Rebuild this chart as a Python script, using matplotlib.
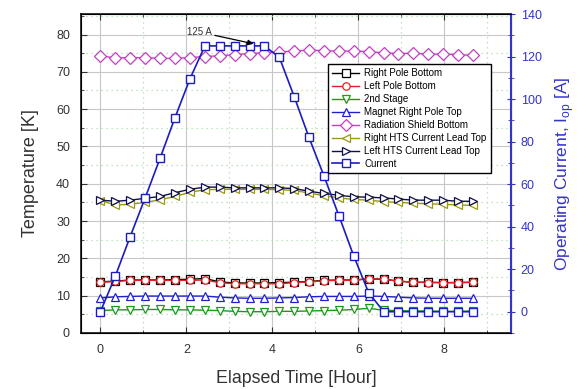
import numpy as np
import matplotlib
matplotlib.use('Agg')
import matplotlib.pyplot as plt
from matplotlib.ticker import MultipleLocator

plt.rcParams['font.family'] = ['Liberation Sans', 'DejaVu Sans']

# elapsed time [hour]
t = [0, 0.35, 0.69, 1.04, 1.39, 1.73, 2.08, 2.43, 2.77, 3.12, 3.47, 3.81, 4.16,
     4.51, 4.85, 5.20, 5.55, 5.89, 6.24, 6.59, 6.93, 7.28, 7.63, 7.97, 8.32, 8.67]

# temperatures [K]
right_pole_bottom = [13.7, 13.9, 14.2, 14.2, 14.2, 14.3, 14.4, 14.6, 13.7, 13.4, 13.4, 13.4, 13.5,
                     13.6, 13.8, 14.1, 14.2, 14.2, 14.5, 14.4, 13.9, 13.6, 13.6, 13.5, 13.5, 13.6]
left_pole_bottom = [13.6, 13.8, 14.1, 14.1, 14.1, 14.1, 14.1, 14.2, 13.5, 13.2, 13.2, 13.2, 13.2,
                    13.5, 13.7, 14.0, 14.1, 14.1, 14.6, 14.4, 13.9, 13.6, 13.5, 13.5, 13.5, 13.6]
second_stage = [6.0, 6.2, 6.2, 6.3, 6.3, 6.2, 6.2, 6.1, 6.0, 5.8, 5.7, 5.7, 5.8,
                5.8, 5.9, 6.0, 6.1, 6.3, 6.6, 6.1, 6.0, 5.9, 5.9, 5.8, 5.8, 5.9]
magnet_right_pole_top = [9.4, 9.7, 9.8, 9.9, 9.9, 9.9, 9.9, 9.9, 9.6, 9.4, 9.3, 9.3, 9.4,
                         9.5, 9.7, 9.8, 9.8, 9.8, 9.9, 9.8, 9.6, 9.4, 9.3, 9.3, 9.3, 9.3]
radiation_shield = [74.3, 73.7, 73.8, 73.8, 73.6, 73.6, 73.8, 74.1, 74.3, 74.6, 74.9, 75.1, 75.3,
                    75.6, 75.8, 75.7, 75.5, 75.6, 75.4, 75.1, 74.9, 75.0, 74.7, 74.8, 74.6, 74.4]
right_hts = [35.5, 34.3, 34.5, 35.0, 35.7, 36.6, 37.7, 38.4, 38.5, 38.5, 38.5, 38.5, 38.4,
             38.2, 37.5, 36.8, 36.2, 35.8, 35.6, 35.2, 35.0, 34.8, 34.6, 34.5, 34.3, 34.2]
left_hts = [35.6, 35.3, 35.6, 36.1, 36.6, 37.6, 38.5, 39.1, 39.1, 38.9, 38.9, 38.9, 38.9,
            38.7, 38.0, 37.4, 36.9, 36.5, 36.4, 36.2, 35.9, 35.6, 35.6, 35.6, 35.3, 35.3]

# operating current [A]
current = [0, 16.9, 35.2, 53.5, 72.3, 91.0, 109.4, 125, 125, 125, 125, 125, 119.7,
           101, 82, 63.8, 45, 26.3, 8.9, 0, 0, 0, 0, 0, 0, 0]

blue = '#3434c8'
txt = '#333333'

fig = plt.figure(figsize=(5.79, 3.89), dpi=100)
ax = fig.add_axes([0.14, 0.144, 0.7426, 0.82])
ax2 = ax.twinx()

mk = dict(markersize=5.3, markerfacecolor='white', linewidth=1, markeredgewidth=0.9)
l1, = ax.plot(t, right_pole_bottom, color='black', marker='s', label='Right Pole Bottom', **mk)
l2, = ax.plot(t, left_pole_bottom, color='#e02020', marker='o', label='Left Pole Bottom', **mk)
l3, = ax.plot(t, second_stage, color='#1a9a1a', marker='v', label='2nd Stage', **mk)
l4, = ax.plot(t, magnet_right_pole_top, color='#2020d0', marker='^', label='Magnet Right Pole Top', **mk)
l5, = ax.plot(t, radiation_shield, color='#c040c0', marker='D', label='Radiation Shield Bottom',
              markersize=5.8, markerfacecolor='white', linewidth=1, markeredgewidth=0.9)
l6, = ax.plot(t, right_hts, color='#9a9a10', marker='<', label='Right HTS Current Lead Top', **mk)
l7, = ax.plot(t, left_hts, color='#10104a', marker='>', label='Left HTS Current Lead Top', **mk)
l8, = ax2.plot(t, current, color='#1c1cc0', marker='s', label='Current',
               markersize=5.3, markerfacecolor='white', linewidth=1.2, markeredgewidth=1)

ax.set_xlim(-0.45, 9.55)
ax.set_ylim(0, 85.5)
ax2.set_ylim(-10, 140)

ax.xaxis.set_major_locator(MultipleLocator(2))
ax.xaxis.set_minor_locator(MultipleLocator(1))
ax.yaxis.set_major_locator(MultipleLocator(10))
ax.yaxis.set_minor_locator(MultipleLocator(5))
ax2.yaxis.set_major_locator(MultipleLocator(20))
ax2.yaxis.set_minor_locator(MultipleLocator(10))

ax.grid(which='major', color='#c8c8c8', linewidth=0.8, linestyle='-')
ax.grid(which='minor', color='#b0dcb0', linewidth=0.9, linestyle=(0, (1, 3)))
ax.set_axisbelow(True)

ax.tick_params(which='both', direction='in', top=True, right=False, labelsize=9, colors=txt)
ax.tick_params(which='major', length=4, pad=8)
ax.tick_params(which='minor', length=2, pad=8)
ax2.tick_params(which='both', direction='inout', colors=blue, labelsize=9)
ax2.tick_params(which='major', length=6, pad=4)
ax2.tick_params(which='minor', length=4)
ax2.spines['right'].set_color(blue)
ax2.spines['right'].set_linewidth(1.5)
for s in ['left', 'bottom', 'top']:
    ax.spines[s].set_linewidth(1.1)

ax.set_xlabel('Elapsed Time [Hour]', fontsize=12.8, color=txt, labelpad=10)
ax.set_ylabel('Temperature [K]', fontsize=13, color=txt, labelpad=12)
ax2.set_ylabel('Operating Current, I$_\\mathregular{op}$ [A]', fontsize=12.5, color=blue, labelpad=8)

ax2.annotate('125 A', xy=(3.56, 126), xytext=(2.02, 131.5), fontsize=7, color=txt,
             va='center', ha='left',
             arrowprops=dict(arrowstyle='-|>', color='black', lw=0.9, mutation_scale=8,
                             shrinkA=0, shrinkB=0))

leg = ax2.legend(handles=[l1, l2, l3, l4, l5, l6, l7, l8], loc='upper left',
                 bbox_to_anchor=(0.574, 0.843), borderaxespad=0, fontsize=7,
                 fancybox=False, edgecolor='black', framealpha=1, labelspacing=0.3,
                 handlelength=2.8, borderpad=0.45, handletextpad=0.5)
leg.get_frame().set_linewidth(1)

fig.savefig('out.png', dpi=100)
